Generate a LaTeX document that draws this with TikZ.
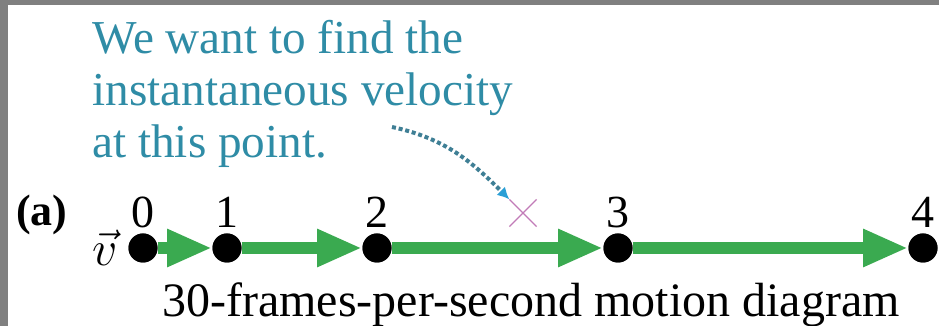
\documentclass[tikz,border=0pt]{standalone}
\usepackage{fontspec}
\setmainfont{Liberation Serif}
\usetikzlibrary{arrows.meta,positioning,shapes.misc}
\definecolor{Frame}{HTML}{808080}
\definecolor{Vel}{HTML}{3AAA50}
\definecolor{Note}{HTML}{2F8CA6}
\definecolor{NoteDot}{HTML}{3F7F95}
\definecolor{NoteTip}{HTML}{2A9FD6}
\definecolor{Mark}{HTML}{C27BB8}
\tikzset{
 dot/.style={circle, fill=black, minimum size=14.5pt, inner sep=0pt},
 num/.style={inner sep=0pt, font=\fontsize{23}{23}\selectfont},
 vel/.style={-{Triangle[length=22.5pt, width=17.5pt]}, line width=6pt, draw=Vel},
 note/.style={inner sep=0pt, align=left, text=Note, font=\fontsize{23.6}{26}\selectfont},
 pointer/.style={-{Latex[length=6pt, width=6pt, color=NoteTip]}, draw=NoteDot, line width=2pt, dash pattern=on 2pt off 1.4pt},
 crossmark/.style={cross out, draw=Mark, line width=0.6pt, minimum size=13pt, inner sep=0pt}
}
\begin{document}
\begin{tikzpicture}[x=0.5pt, y=0.5pt]
\useasboundingbox (0,0) rectangle (939,326);
\fill[Frame] (0,0) rectangle (939,326);
\fill[white] (8,0) rectangle (939,321);
% positions of the object, one frame apart
\node[dot] (p0) at (143,78) {};
\node[dot] (p1) at (227,78) {};
\node[dot] (p2) at (377,78) {};
\node[dot] (p3) at (618,78) {};
\node[dot] (p4) at (923,78) {};
\foreach \i in {0,...,4} {\node[num, above=2.5pt of p\i] (n\i) {\i};}
\draw[vel] (p0)--(p1);\draw[vel] (p1)--(p2);\draw[vel] (p2)--(p3);\draw[vel] (p3)--(p4);
\foreach \i in {0,...,4} {\node[dot] at (p\i) {};}
\node[inner sep=0pt, left=5pt of p0, font=\fontsize{23}{23}\selectfont] (vlab) {$\vec{v}$};
\node[inner sep=0pt, anchor=base, font=\fontsize{22}{22}\selectfont\bfseries] (part) at (42,100) {(a)};
\node[inner sep=0pt, anchor=base, font=\fontsize{24}{27}\selectfont] (cap) at (531,9) {30-frames-per-second motion diagram};
% the instant we ask about
\node[crossmark] (xmark) at (523,113) {};
\node[note, anchor=north west] (note) at (92,306) {We want to find the\\instantaneous velocity\\at this point.};
\coordinate (tail) at (392,199);
\draw[pointer] (tail) to[out=-12, in=135] (xmark.north west);
\end{tikzpicture}
\end{document}
